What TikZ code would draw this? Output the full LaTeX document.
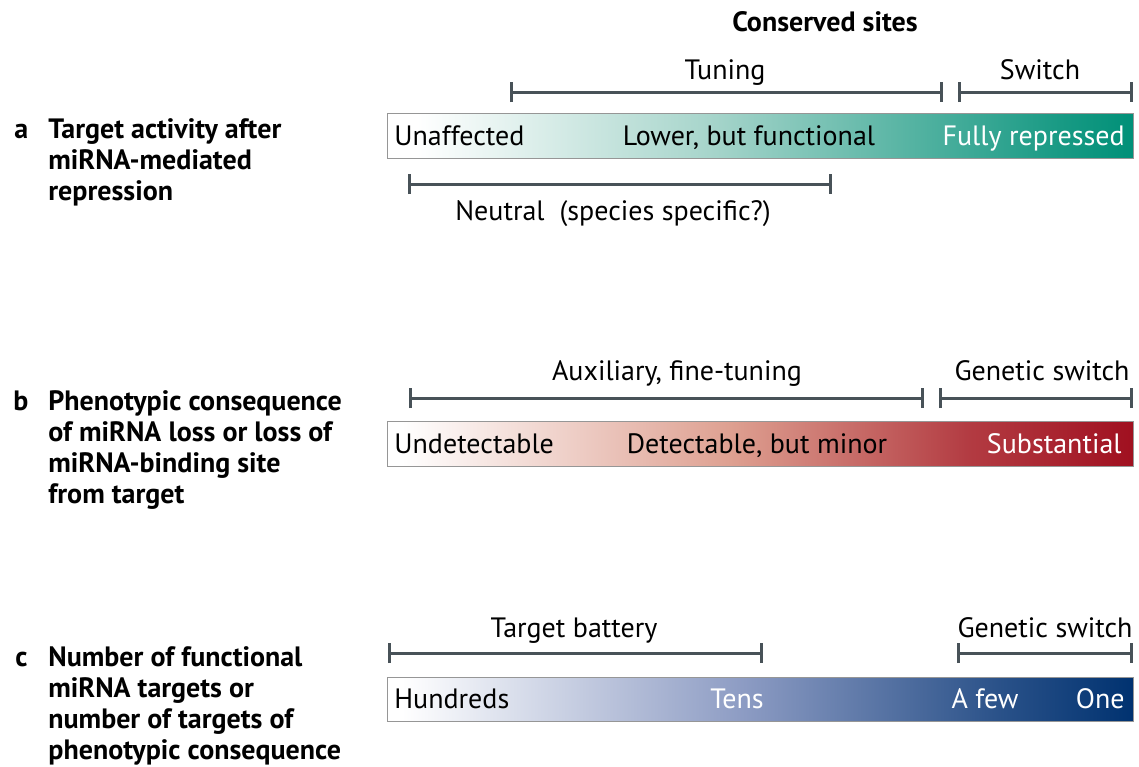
\documentclass[tikz,border=0pt]{standalone}
\usepackage{fontspec}
\setmainfont{PT Sans}
\usetikzlibrary{arrows.meta}

\definecolor{rangeline}{RGB}{72,82,88}
\definecolor{baredge}{RGB}{150,150,150}
\definecolor{tealmid}{RGB}{165,212,202}
\definecolor{tealend}{RGB}{0,144,120}
\definecolor{redmid}{RGB}{222,160,145}
\definecolor{redend}{RGB}{160,16,32}
\definecolor{bluemid}{RGB}{140,155,195}
\definecolor{blueend}{RGB}{0,50,112}

% the path box is mapped onto 25bp..75bp of each shading
\pgfdeclarehorizontalshading{tealbar}{100bp}{color(0bp)=(white); color(27bp)=(white); color(47bp)=(tealmid); color(70bp)=(tealend!85!tealmid); color(75bp)=(tealend); color(100bp)=(tealend)}
\pgfdeclarehorizontalshading{redbar}{100bp}{color(0bp)=(white); color(26bp)=(white); color(48bp)=(redmid); color(64bp)=(redend!70!redmid); color(75bp)=(redend); color(100bp)=(redend)}
\pgfdeclarehorizontalshading{bluebar}{100bp}{color(0bp)=(white); color(26bp)=(white); color(49bp)=(bluemid); color(66bp)=(blueend!70!bluemid); color(75bp)=(blueend); color(100bp)=(blueend)}

% multi-line heading whose reference point is the first baseline
\newcommand{\headlines}[1]{\begin{tabular}[t]{@{}l@{}}#1\end{tabular}}

\begin{document}
\begin{tikzpicture}[x=0.5pt,y=-0.5pt,
  txt/.style={font=\fontsize{14}{16}\selectfont, inner sep=0pt},
  head/.style={font=\bfseries\fontsize{14}{15.5}\selectfont, inner sep=0pt},
  spanline/.style={rangeline, line width=1.5pt, {Bar[width=10pt]}-{Bar[width=10pt]}},
  bar/.style={draw=baredge, line width=0.5pt}]
\useasboundingbox (0,0) rectangle (1139,766);

% ---------- panel a ----------
\node[head, anchor=base] (cons) at (825,31) {Conserved sites};
\node[head, anchor=base west] (la) at (14,138) {a};
\node[head, anchor=base west] (ta) at (48,138) {\headlines{Target activity after\\miRNA-mediated\\repression}};

\coordinate (tun1) at (510,92); \coordinate (tun2) at (943,92);
\coordinate (sw1) at (958,92);  \coordinate (sw2) at (1133,92);
\draw[spanline] (tun1) -- (tun2);
\draw[spanline] (sw1) -- (sw2);
\node[txt, anchor=base] (tuning) at (725,79) {Tuning};
\node[txt, anchor=base] (switch) at (1040,79) {Switch};

\shade[shading=tealbar, bar] (387,113) rectangle (1133,158);
\node[txt, anchor=base west] (unaff) at (394,145) {Unaffected};
\node[txt, anchor=base] (lower) at (749,145) {Lower, but functional};
\node[txt, anchor=base east, text=white] (fully) at (1125,145) {Fully repressed};

\coordinate (neu1) at (408,184); \coordinate (neu2) at (832,184);
\draw[spanline] (neu1) -- (neu2);
\node[txt, anchor=base] (neutral) at (613,220) {Neutral\ \ (species specific?)};

% ---------- panel b ----------
\node[head, anchor=base west] (lb) at (13,410) {b};
\node[head, anchor=base west] (tb) at (48,410) {\headlines{Phenotypic consequence\\of miRNA loss or loss of\\miRNA-binding site\\from target}};

\coordinate (aux1) at (409,398); \coordinate (aux2) at (924,398);
\coordinate (gs1) at (939,398);  \coordinate (gs2) at (1133,398);
\draw[spanline] (aux1) -- (aux2);
\draw[spanline] (gs1) -- (gs2);
\node[txt, anchor=base] (auxil) at (677,380) {Auxiliary, fine-tuning};
\node[txt, anchor=base] (genb) at (1042,380) {Genetic switch};

\shade[shading=redbar, bar] (387,421) rectangle (1133,466);
\node[txt, anchor=base west] (undet) at (394,453) {Undetectable};
\node[txt, anchor=base] (detect) at (757,453) {Detectable, but minor};
\node[txt, anchor=base east, text=white] (subst) at (1122,453) {Substantial};

% ---------- panel c ----------
\node[head, anchor=base west] (lc) at (15,666) {c};
\node[head, anchor=base west] (tc) at (48,666) {\headlines{Number of functional\\miRNA targets or\\number of targets of\\phenotypic consequence}};

\coordinate (bat1) at (388,653); \coordinate (bat2) at (763,653);
\coordinate (gc1) at (957,653);  \coordinate (gc2) at (1133,653);
\draw[spanline] (bat1) -- (bat2);
\draw[spanline] (gc1) -- (gc2);
\node[txt, anchor=base] (battery) at (574,637) {Target battery};
\node[txt, anchor=base] (genc) at (1045,637) {Genetic switch};

\shade[shading=bluebar, bar] (387,677) rectangle (1133,721);
\node[txt, anchor=base west] (hund) at (394,708) {Hundreds};
\node[txt, anchor=base, text=white] (tens) at (737,708) {Tens};
\node[txt, anchor=base, text=white] (afew) at (985,708) {A few};
\node[txt, anchor=base east, text=white] (one) at (1125,708) {One};
\end{tikzpicture}
\end{document}
